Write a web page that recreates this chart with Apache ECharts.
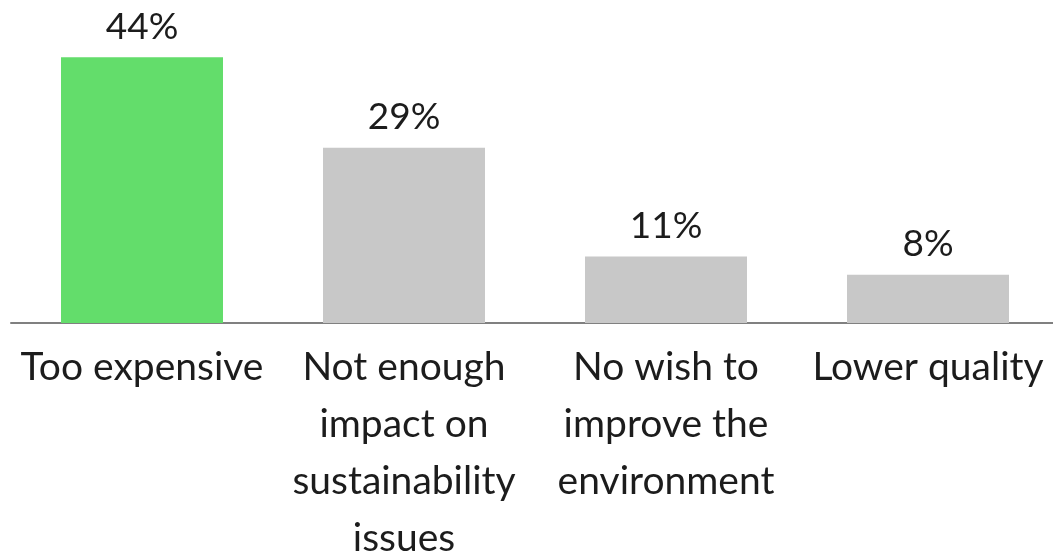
<!DOCTYPE html>
<html>
<head>
<meta charset="utf-8">
<script src="https://cdn.jsdelivr.net/npm/echarts@6/dist/echarts.min.js"></script>
<style>html,body{margin:0;padding:0;background:#fff;}#c{width:1053px;height:554px;}</style>
</head>
<body>
<div id="c"></div>
<script>
const categories = ["Too expensive", "Not enough\nimpact on\nsustainability\nissues", "No wish to\nimprove the\nenvironment", "Lower quality"];
const values = [44, 29, 11, 8];
const barColors = ["#63dd6b", "#c8c8c8", "#c8c8c8", "#c8c8c8"];

const chart = echarts.init(document.getElementById('c'));
const FONT = 'Lato';
chart.setOption({
  animation: false,
  grid: { left: 11, width: 1048, top: 21, height: 302, outerBoundsMode: 'none', containLabel: false },
  xAxis: {
    type: 'category',
    data: categories,
    axisLine: { lineStyle: { color: '#808080', width: 2 } },
    axisTick: { show: false },
    axisLabel: {
      interval: 0,
      color: '#1c1c1c',
      fontFamily: FONT,
      fontSize: 39,
      lineHeight: 57,
      margin: 16,
      align: 'center'
    }
  },
  yAxis: {
    type: 'value', min: 0, max: 50,
    show: false,
    splitLine: { show: false }
  },
  series: [{
    type: 'bar',
    barWidth: 162,
    data: values.map((v, i) => ({ value: v, itemStyle: { color: barColors[i] } })),
    label: {
      show: true,
      position: 'top',
      distance: 12,
      formatter: '{c}%',
      color: '#1c1c1c',
      fontFamily: FONT,
      fontSize: 37
    }
  }]
});
</script>
</body>
</html>
